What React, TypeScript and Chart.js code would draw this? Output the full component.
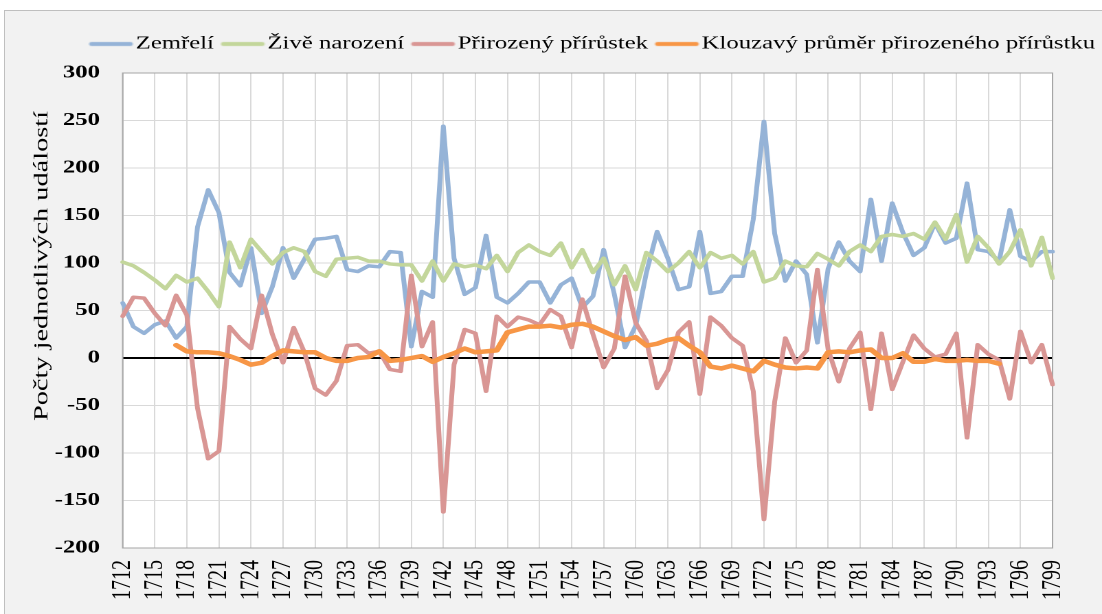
import React, { useEffect, useRef } from 'react';
import { Chart, registerables } from 'chart.js';

Chart.register(...registerables);

// ---------- data ----------
const years = [
  '1712','1713','1714','1715','1716','1717','1718','1719','1720','1721',
  '1722','1723','1724','1725','1726','1727','1728','1729','1730','1731',
  '1732','1733','1734','1735','1736','1737','1738','1739','1740','1741',
  '1742','1743','1744','1745','1746','1747','1748','1749','1750','1751',
  '1752','1753','1754','1755','1756','1757','1758','1759','1760','1761',
  '1762','1763','1764','1765','1766','1767','1768','1769','1770','1771',
  '1772','1773','1774','1775','1776','1777','1778','1779','1780','1781',
  '1782','1783','1784','1785','1786','1787','1788','1789','1790','1791',
  '1792','1793','1794','1795','1796','1797','1798','1799',
];

const zemreli = [
  58, 33, 26, 35, 39, 21, 33, 138, 177, 153,
  90, 76, 116, 47, 75, 116, 84, 104, 125, 126,
  128, 93, 91, 97, 96, 112, 111, 12, 70, 64,
  244, 105, 67, 74, 129, 64, 58, 68, 80, 80,
  58, 77, 84, 53, 65, 114, 67, 11, 34, 90,
  133, 105, 72, 75, 133, 68, 70, 86, 86, 146,
  249, 131, 81, 102, 88, 16, 94, 122, 102, 91,
  167, 102, 163, 132, 108, 116, 142, 121, 126, 184,
  114, 112, 102, 156, 107, 102, 112, 112,
];

const zivenarozeni = [
  101, 97, 90, 82, 73, 87, 80, 84, 70, 54,
  122, 95, 125, 112, 99, 111, 116, 112, 91, 86,
  104, 105, 106, 102, 102, 99, 98, 98, 81, 102,
  81, 99, 96, 98, 94, 108, 91, 111, 119, 112,
  108, 121, 95, 114, 90, 105, 77, 97, 72, 111,
  102, 91, 100, 112, 95, 111, 105, 108, 99, 112,
  80, 84, 102, 97, 96, 110, 104, 97, 112, 119,
  112, 128, 130, 128, 131, 125, 143, 125, 151, 101,
  128, 116, 99, 112, 135, 97, 127, 84,
];

const prirustek = [
  44, 64, 63, 47, 34, 66, 45, -53, -106, -98,
  33, 20, 10, 66, 25, -5, 32, 6, -32, -39,
  -24, 13, 14, 5, 7, -12, -14, 87, 12, 38,
  -162, -7, 30, 26, -35, 44, 33, 43, 40, 35,
  51, 44, 11, 62, 25, -10, 10, 86, 37, 18,
  -32, -13, 27, 38, -38, 43, 34, 21, 13, -35,
  -170, -46, 21, -5, 8, 93, 9, -25, 10, 27,
  -54, 26, -33, -4, 24, 10, 1, 4, 26, -84,
  14, 4, -2, -43, 28, -5, 14, -28,
];

const klouzavy = [
  null, null, null, null, null, 13.5, 7, 6, 6, 5,
  2, -2, -7, -5, 2, 8, 7, 6, 6, 0,
  -3, -3, 0, 1, 7, -3, -2, 0, 2, -4,
  1, 5, 10, 6, 7, 8, 27, 30, 33, 33,
  34, 32, 35, 36, 33, 28, 23, 19, 22, 13,
  15, 19, 21, 13, 6, -9, -11, -8, -11, -14,
  -3, -7, -10, -11, -10, -11, 6, 7, 6, 8,
  9, 0, 0, 5, -4, -4, -1, -3, -3, -2,
  -3, -3, -6, null, null, null, null, null,
];

const seriesNames = [
  'Zemřelí',
  'Živě narození',
  'Přirozený přírůstek',
  'Klouzavý průměr přirozeného přírůstku',
];
const seriesColors = ['#95b3d7', '#c3d69b', '#d99694', '#f79646'];

const yTitle = 'Počty jednotlivých událostí';

// ---------- layout (canvas drawn narrow, then stretched horizontally) ----------
const CW = 802;
const CH = 614;
const SX = 1102 / CW;
const SERIF = "'Liberation Serif', 'Times New Roman', serif";

function legendLine(color: string): HTMLCanvasElement {
  const c = document.createElement('canvas');
  c.width = 42;
  c.height = 8;
  const g = c.getContext('2d')!;
  g.strokeStyle = color;
  g.lineWidth = 4;
  g.lineCap = 'round';
  g.beginPath();
  g.moveTo(10.5, 4);
  g.lineTo(38.5, 4);
  g.stroke();
  return c;
}

export default function App() {
  const ref = useRef<HTMLCanvasElement | null>(null);

  useEffect(() => {
    if (!ref.current) return;
    const values = [zemreli, zivenarozeni, prirustek, klouzavy];
    const widths = [3.5, 3.5, 3.5, 4.5];
    const orders = [4, 3, 2, 1];

    const plotBg = {
      id: 'plotBg',
      beforeDraw(chart: any) {
        const { ctx, chartArea: a } = chart;
        ctx.save();
        ctx.fillStyle = '#ffffff';
        ctx.fillRect(a.left, a.top, a.right - a.left, a.bottom - a.top);
        ctx.restore();
      },
      beforeDatasetsDraw(chart: any) {
        const { ctx, chartArea: a } = chart;
        ctx.save();
        ctx.strokeStyle = '#a6a6a6';
        ctx.lineWidth = 1;
        ctx.strokeRect(a.left, a.top, a.right - a.left, a.bottom - a.top);
        ctx.restore();
      },
      afterDraw(chart: any) {
        const { ctx } = chart;
        ctx.save();
        ctx.translate(30.6, 266);
        ctx.rotate(-Math.PI / 2);
        ctx.font = '18px ' + SERIF;
        const w = ctx.measureText(yTitle).width;
        ctx.scale(310 / w, 0.8);
        ctx.fillStyle = '#000';
        ctx.textAlign = 'center';
        ctx.textBaseline = 'middle';
        ctx.fillText(yTitle, 0, 0);
        ctx.restore();
      },
    };

    const chart = new Chart(ref.current, {
      type: 'line',
      data: {
        labels: years,
        datasets: seriesNames.map((name, k) => ({
          label: name,
          data: values[k] as any,
          borderColor: seriesColors[k],
          backgroundColor: seriesColors[k],
          borderWidth: widths[k],
          pointRadius: 0,
          pointHoverRadius: 0,
          pointStyle: legendLine(seriesColors[k]) as any,
          tension: 0,
          fill: false,
          borderJoinStyle: 'round',
          borderCapStyle: 'round',
          order: orders[k],
          xAxisID: 'x',
          yAxisID: 'y',
        })),
      },
      options: {
        responsive: false,
        animation: false,
        devicePixelRatio: 2,
        layout: { padding: { top: 30, left: 0, right: 0, bottom: 0 } },
        plugins: {
          legend: {
            position: 'top',
            align: 'end',
            labels: {
              usePointStyle: true,
              pointStyleWidth: 25,
              padding: 5,
              color: '#000',
              font: { family: SERIF, size: 18 },
              sort: (a: any, b: any) => a.datasetIndex - b.datasetIndex,
            },
          },
          tooltip: { enabled: false },
        },
        scales: {
          x: {
            type: 'category',
            position: 'bottom',
            offset: false,
            grid: { color: '#d9d9d9', lineWidth: 1, drawTicks: false },
            border: { display: false },
            ticks: {
              autoSkip: false,
              minRotation: 90,
              maxRotation: 90,
              padding: 12,
              color: '#000',
              font: { family: SERIF, size: 20 },
              callback: (_v: any, i: number) => (i % 3 === 0 ? years[i] : null),
            },
            afterFit: (s: any) => {
              s.height = 66;
            },
          },
          xTop: {
            type: 'linear',
            position: 'top',
            display: true,
            grid: { display: false },
            border: { display: false },
            ticks: { display: false },
            afterFit: (s: any) => {
              s.height = 10;
            },
          },
          y: {
            type: 'linear',
            position: 'left',
            min: -200,
            max: 300,
            grid: {
              color: (c: any) => (c.tick && c.tick.value === 0 ? '#000000' : '#d9d9d9'),
              lineWidth: (c: any) => (c.tick && c.tick.value === 0 ? 2 : 1),
              drawTicks: false,
            },
            border: { display: false },
            ticks: {
              stepSize: 50,
              padding: 16.5,
              color: '#000',
              font: { family: SERIF, size: 18, weight: 'bold' },
              callback: (v: any) => String(v),
            },
            afterFit: (s: any) => {
              s.width = 89.3;
            },
          },
          yRight: {
            type: 'linear',
            position: 'right',
            display: true,
            grid: { display: false },
            border: { display: false },
            ticks: { display: false },
            afterFit: (s: any) => {
              s.width = 14.7;
            },
          },
        },
      } as any,
      plugins: [plotBg],
    });
    return () => chart.destroy();
  }, []);

  return (
    <div
      style={{
        position: 'absolute',
        left: 0,
        top: 0,
        width: 1102,
        height: 614,
        overflow: 'hidden',
        background: '#ffffff',
      }}
    >
      <div
        style={{
          position: 'absolute',
          left: 4,
          top: 10,
          width: 1110,
          height: 620,
          background: '#f2f2f2',
          border: '1px solid #bfbfbf',
        }}
      />
      <div
        style={{
          position: 'absolute',
          left: 0,
          top: 0,
          width: CW,
          height: CH,
          transform: `scaleX(${SX})`,
          transformOrigin: '0 0',
        }}
      >
        <canvas
          ref={ref}
          width={CW}
          height={CH}
          style={{ display: 'block', width: CW + 'px', height: CH + 'px' }}
        />
      </div>
    </div>
  );
}
